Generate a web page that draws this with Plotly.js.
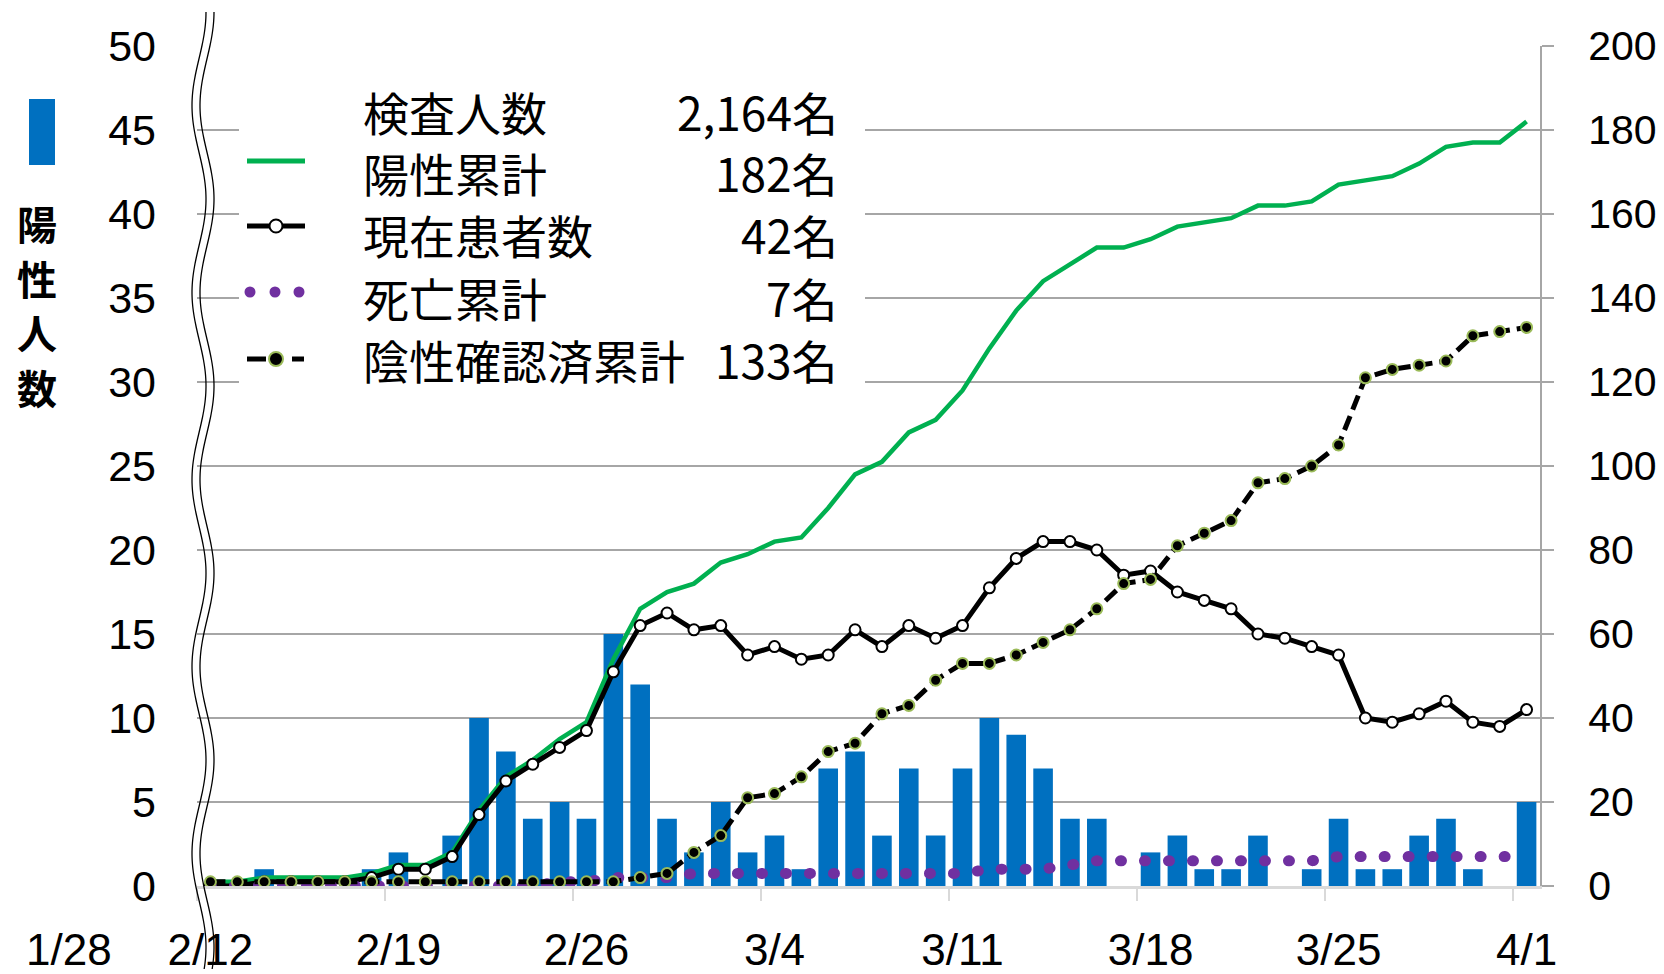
<!DOCTYPE html>
<html>
<head>
<meta charset="utf-8">
<script src="https://cdn.plot.ly/plotly-3.0.1.min.js"></script>
<style>
html,body{margin:0;padding:0;background:#fff;}
#chart{width:1664px;height:974px;}
</style>
</head>
<body>
<div id="chart"></div>
<script>
// ---- data ----
const dates = ["2/12","2/13","2/14","2/15","2/16","2/17","2/18","2/19","2/20","2/21","2/22","2/23","2/24","2/25","2/26","2/27","2/28","2/29",
  "3/1","3/2","3/3","3/4","3/5","3/6","3/7","3/8","3/9","3/10","3/11","3/12","3/13","3/14","3/15","3/16","3/17","3/18","3/19","3/20",
  "3/21","3/22","3/23","3/24","3/25","3/26","3/27","3/28","3/29","3/30","3/31","4/1"];
const dailyPositive = [0,0,1,0,0,0,1,2,0,3,10,8,4,5,4,15,12,4,2,5,2,3,1,7,8,3,7,3,7,10,9,7,4,4,0,2,3,1,1,3,0,1,4,1,1,3,4,1,0,5];
const cumPositive = [1,1,2,2,2,2,3,5,5,8,18,26,30,35,39,54,66,70,72,77,79,82,83,90,98,101,108,111,118,128,137,144,148,152,152,154,157,158,159,162,162,163,167,168,169,172,176,177,177,182];
const currentPatients = [0,0,1,1,1,1,2,4,4,7,17,25,29,33,37,51,62,65,61,62,55,57,54,55,61,57,62,59,62,71,78,82,82,80,74,75,70,68,66,60,59,57,55,40,39,41,44,39,38,42];
const cumDeaths = [0,0,0,0,0,0,0,0,0,0,0,0,0,1,1,2,2,2,3,3,3,3,3,3,3,3,3,3,3,4,4,4,5,6,6,6,6,6,6,6,6,6,7,7,7,7,7,7,7,7];
const cumNegativeConfirmed = [1,1,1,1,1,1,1,1,1,1,1,1,1,1,1,1,2,3,8,12,21,22,26,32,34,41,43,49,53,53,55,58,61,66,72,73,81,84,87,96,97,100,105,121,123,124,125,131,132,133];
const tickLabels = ["2/12","2/19","2/26","3/4","3/11","3/18","3/25","4/1"];
const offAxisLabel = "1/28";
const legendLabels = ["検査人数","陽性累計","現在患者数","死亡累計","陰性確認済累計"];
const legendValues = ["2,164名","182名","42名","7名","133名"];
const leftTitle = "陽性人数";

// ---- geometry helpers (pixel -> paper) ----
const L = 197, R = 1540, T = 46, B = 886;
const px = x => (x - L) / (R - L);
const py = y => (B - y) / (B - T);

const xIdx = dates.map((d, i) => i);
const tickvals = tickLabels.map(t => dates.indexOf(t));

const data = [
  {type:'bar', name:'陽性人数', x:xIdx, y:dailyPositive, yaxis:'y',
   marker:{color:'#0070C0', line:{width:0}}, hoverinfo:'skip'},
  {type:'scatter', mode:'lines', name:legendLabels[1], x:xIdx, y:cumPositive, yaxis:'y2',
   line:{color:'#00B050', width:4.5}, hoverinfo:'skip'},
  {type:'scatter', mode:'lines+markers', name:legendLabels[2], x:xIdx, y:currentPatients, yaxis:'y2',
   line:{color:'#000000', width:5},
   marker:{symbol:'circle', size:11, color:'#ffffff', line:{color:'#000000', width:2}}, hoverinfo:'skip'},
  {type:'scatter', mode:'lines', name:legendLabels[3], x:xIdx, y:cumDeaths, yaxis:'y2',
   line:{color:'#7030A0', width:11, dash:'1px,23px'}, hoverinfo:'skip'},
  {type:'scatter', mode:'lines+markers', name:legendLabels[4], x:xIdx, y:cumNegativeConfirmed, yaxis:'y2',
   line:{color:'#000000', width:5, dash:'15px,7px'},
   marker:{symbol:'circle', size:11, color:'#000000', line:{color:'#9BBB59', width:2}}, hoverinfo:'skip'}
];

// ---- decorations ----
function wavePath(offset){
  let d = '';
  for(let y = 12; y <= 971; y += 3){
    const x = 203 + 7*Math.cos(2*Math.PI*(y-12)/187) + offset;
    d += (d ? ' L ' : 'M ') + px(x).toFixed(5) + ',' + py(y).toFixed(5);
  }
  return d;
}

const shapes = [
  // legend background
  {type:'rect', xref:'paper', yref:'paper', x0:px(239), x1:px(865), y0:py(60), y1:py(405),
   fillcolor:'#ffffff', line:{width:0}, layer:'above'},
  // axis-break squiggle
  {type:'path', xref:'paper', yref:'paper', path:wavePath(-4), line:{color:'#000', width:1.3}, layer:'above'},
  {type:'path', xref:'paper', yref:'paper', path:wavePath(4), line:{color:'#000', width:1.3}, layer:'above'},
  // left legend: blue box
  {type:'rect', xref:'paper', yref:'paper', x0:px(29), x1:px(55), y0:py(165), y1:py(99),
   fillcolor:'#0070C0', line:{width:0}, layer:'above'},
  // legend symbol: 陽性累計
  {type:'line', xref:'paper', yref:'paper', x0:px(247), x1:px(305), y0:py(161), y1:py(161),
   line:{color:'#00B050', width:5}, layer:'above'},
  // 現在患者数
  {type:'line', xref:'paper', yref:'paper', x0:px(247), x1:px(305), y0:py(226), y1:py(226),
   line:{color:'#000', width:5}, layer:'above'},
  {type:'circle', xref:'paper', yref:'paper', x0:px(269.5), x1:px(282.5), y0:py(232.5), y1:py(219.5),
   fillcolor:'#fff', line:{color:'#000', width:2}, layer:'above'},
  // 死亡累計
  ...[250, 275, 299].map(cx => ({type:'circle', xref:'paper', yref:'paper',
     x0:px(cx-5.5), x1:px(cx+5.5), y0:py(292+5.5), y1:py(292-5.5),
     fillcolor:'#7030A0', line:{width:0}, layer:'above'})),
  // 陰性確認済累計
  {type:'line', xref:'paper', yref:'paper', x0:px(247), x1:px(266), y0:py(359), y1:py(359),
   line:{color:'#000', width:5}, layer:'above'},
  {type:'line', xref:'paper', yref:'paper', x0:px(292), x1:px(304), y0:py(359), y1:py(359),
   line:{color:'#000', width:5}, layer:'above'},
  {type:'circle', xref:'paper', yref:'paper', x0:px(269), x1:px(283), y0:py(366), y1:py(352),
   fillcolor:'#000', line:{color:'#9BBB59', width:2}, layer:'above'}
];

const rowY = [111, 172, 234, 297, 359];
const jpFont = {family:'"Noto Sans CJK JP", sans-serif', size:46, color:'#000'};
const annotations = [];
legendLabels.forEach((t, k) => {
  annotations.push({xref:'paper', yref:'paper', x:px(361), y:py(rowY[k]), xanchor:'left', yanchor:'middle',
    text:t, showarrow:false, font:jpFont});
  annotations.push({xref:'paper', yref:'paper', x:px(840), y:py(rowY[k]), xanchor:'right', yanchor:'middle',
    text:legendValues[k], showarrow:false, font:jpFont});
});
// vertical left title, one character per annotation
const titleY = [223, 278, 332, 387];
leftTitle.split('').forEach((ch, k) => {
  annotations.push({xref:'paper', yref:'paper', x:px(37), y:py(titleY[k]), xanchor:'center', yanchor:'middle',
    text:ch, showarrow:false,
    font:{family:'"Noto Sans CJK JP", sans-serif', size:40, color:'#000', weight:'bold'}});
});
annotations.push({xref:'paper', yref:'paper', x:px(69), y:py(949), xanchor:'center', yanchor:'middle',
  text:offAxisLabel, showarrow:false, font:{family:'"Liberation Sans", Arial, sans-serif', size:44, color:'#000'}});

const layout = {
  width:1664, height:974,
  margin:{l:L, r:1664-R, t:T, b:974-B, pad:0},
  paper_bgcolor:'#ffffff', plot_bgcolor:'#ffffff',
  showlegend:false,
  bargap:0.27,
  xaxis:{range:[-0.5, 49.5], tickmode:'array', tickvals:tickvals, ticktext:tickLabels,
    ticks:'', showgrid:false, zeroline:false, showline:true, linecolor:'#d9d9d9', linewidth:3,
    tickfont:{family:'"Liberation Sans", Arial, sans-serif', size:44, color:'#000'},
    ticklabelstandoff:23, automargin:false,
    minor:{tickmode:'linear', tick0:-0.5, dtick:7, ticks:'outside', ticklen:12, tickwidth:2, tickcolor:'#d9d9d9', showgrid:false}},
  yaxis:{range:[0, 50], tickmode:'linear', tick0:0, dtick:5, showgrid:true, gridcolor:'#a6a6a6', gridwidth:2,
    zeroline:false, showline:false, ticks:'', automargin:false,
    tickfont:{family:'"Liberation Sans", Arial, sans-serif', size:43, color:'#000'}, ticklabelstandoff:40},
  yaxis2:{overlaying:'y', side:'right', range:[0, 200], tickmode:'linear', tick0:0, dtick:20,
    showgrid:false, zeroline:false, showline:true, linecolor:'#a6a6a6', linewidth:2,
    ticks:'outside', ticklen:12, tickwidth:2, tickcolor:'#a6a6a6', automargin:false,
    tickfont:{family:'"Liberation Sans", Arial, sans-serif', size:41, color:'#000'}, ticklabelstandoff:26},
  shapes:shapes,
  annotations:annotations
};

Plotly.newPlot('chart', data, layout, {staticPlot:true, displayModeBar:false}).then(gd => {
  gd.querySelectorAll('.scatterlayer path.js-line').forEach(p => {
    const s = (p.style.stroke || '').replace(/\s/g,'');
    if(s === 'rgb(112,48,160)' || s.toLowerCase() === '#7030a0'){
      p.style.strokeLinecap = 'round';
    }
  });
});
</script>
</body>
</html>
